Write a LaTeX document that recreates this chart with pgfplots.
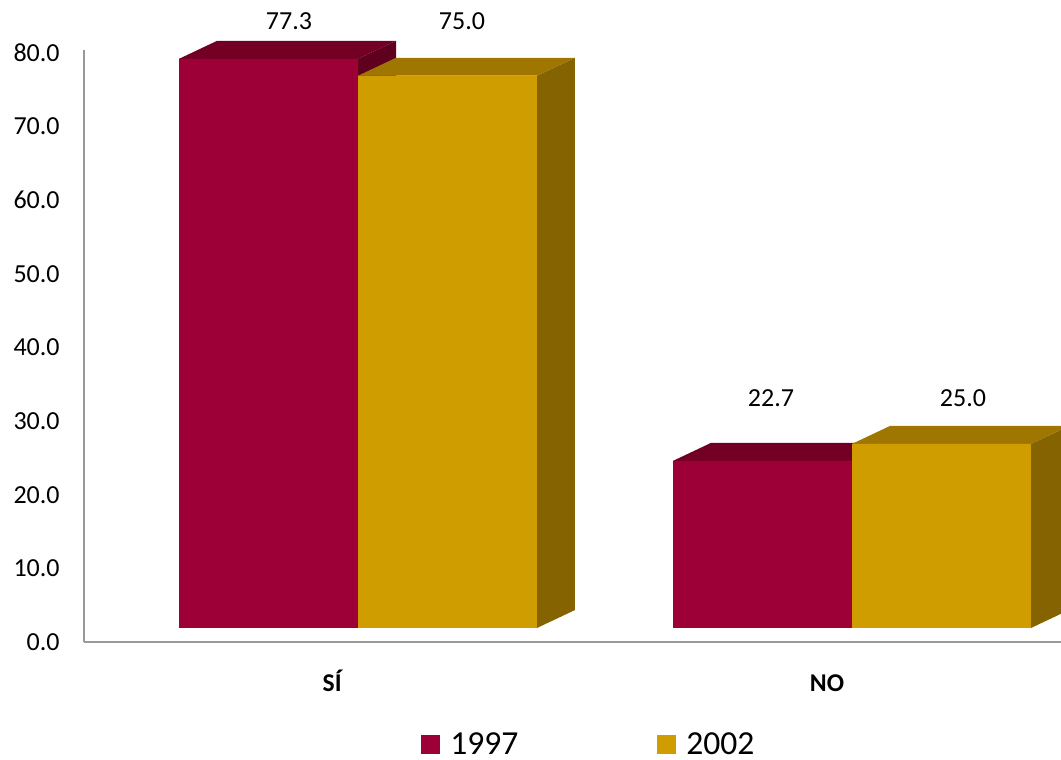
\documentclass[border=0pt]{standalone}
\usepackage{pgfplots}
\pgfplotsset{compat=1.18}
\usepackage{fontspec}
\setmainfont{Carlito}
\definecolor{cAfront}{HTML}{9C0036}
\definecolor{cAtop}{HTML}{730024}
\definecolor{cAside}{HTML}{5F001E}
\definecolor{cBfront}{HTML}{CF9D00}
\definecolor{cBtop}{HTML}{9E7600}
\definecolor{cBside}{HTML}{846300}
\begin{document}
\begin{tikzpicture}
\useasboundingbox (0,0) rectangle (530.5pt,380pt);
\clip (0,0) rectangle (530.5pt,380pt);
\begin{axis}[
  at={(42pt,59pt)}, anchor=south west,
  scale only axis, width=488.5pt, height=296pt,
  xmin=-0.5547, xmax=1.4231, ymin=0, ymax=80.4,
  enlargelimits=false, clip=false,
  axis x line=bottom, axis y line=left,
  axis line style={-, draw=black!40, line width=1pt},
  major tick length=0pt,
  ytick={0,10,...,80},
  /pgf/number format/.cd, fixed, fixed zerofill, precision=1, assume math mode=true,
  /pgfplots/.cd,
  yticklabel style={anchor=east, inner sep=0pt, xshift=-12pt, font=\fontsize{13}{15}\selectfont},
  xtick={-0.0506,0.9494},
  xticklabels={\textbf{SÍ},\textbf{NO}},
  xticklabel style={anchor=base, inner sep=0pt, yshift=-25pt, font=\fontsize{12.8}{15}\selectfont},
  legend image code/.code={\fill[#1, draw=none] (0pt,-4.75pt) rectangle (9.5pt,4.75pt);},
  legend columns=2,
  legend style={at={(0.3449,-0.1735)}, anchor=west, draw=none, fill=none, inner sep=0pt,
    font=\fontsize{16.8}{19}\selectfont,
    nodes={inner sep=0pt},
    cells={anchor=west},
    /tikz/every odd column/.append style={column sep=5pt},
    /tikz/every even column/.append style={column sep=69.4pt}},
]
\addlegendimage{fill=cAfront, draw=none}
\addlegendentry{1997}
\addlegendimage{fill=cBfront, draw=none}
\addlegendentry{2002}

% ---- 1997 ----
\addplot[forget plot, fill=cAside, draw=none, yshift=7pt] coordinates {(0,0) (0.0769,2.44) (0.0769,79.74) (0,77.3)} -- cycle;
\addplot[forget plot, fill=cAtop, draw=none, yshift=7pt] coordinates {(-0.3623,77.3) (-0.2854,79.74) (0.0769,79.74) (0,77.3)} -- cycle;
\addplot[forget plot, fill=cAside, draw=none, yshift=7pt] coordinates {(1,0) (1.0769,2.44) (1.0769,25.14) (1,22.7)} -- cycle;
\addplot[forget plot, fill=cAtop, draw=none, yshift=7pt] coordinates {(0.6377,22.7) (0.7146,25.14) (1.0769,25.14) (1,22.7)} -- cycle;
\addplot[forget plot, ybar, bar width=0.3623, bar shift=0pt, fill=cAfront, draw=none, yshift=7pt]
  coordinates {(-0.18115,77.3) (0.81885,22.7)};

% ---- 2002 ----
\addplot[forget plot, fill=cBside, draw=none, yshift=7pt] coordinates {(0.3623,0) (0.4392,2.44) (0.4392,77.44) (0.3623,75.0)} -- cycle;
\addplot[forget plot, fill=cBtop, draw=none, yshift=7pt] coordinates {(0,75.0) (0.0769,77.44) (0.4392,77.44) (0.3623,75.0)} -- cycle;
\addplot[forget plot, fill=cBside, draw=none, yshift=7pt] coordinates {(1.3623,0) (1.4392,2.44) (1.4392,27.44) (1.3623,25.0)} -- cycle;
\addplot[forget plot, fill=cBtop, draw=none, yshift=7pt] coordinates {(1,25.0) (1.0769,27.44) (1.4392,27.44) (1.3623,25.0)} -- cycle;
\addplot[forget plot, ybar, bar width=0.3623, bar shift=0pt, fill=cBfront, draw=none, yshift=7pt]
  coordinates {(0.18115,75.0) (1.18115,25.0)};

% ---- data labels ----
\node[anchor=base, inner sep=0pt, font=\fontsize{13}{15}\selectfont] at (axis cs:-0.1397,83.12) {77.3};
\node[anchor=base, inner sep=0pt, font=\fontsize{13}{15}\selectfont] at (axis cs:0.2105,83.12) {75.0};
\node[anchor=base, inner sep=0pt, font=\fontsize{13}{15}\selectfont] at (axis cs:0.836,31.92) {22.7};
\node[anchor=base, inner sep=0pt, font=\fontsize{13}{15}\selectfont] at (axis cs:1.2247,31.92) {25.0};
\end{axis}
\end{tikzpicture}
\end{document}
